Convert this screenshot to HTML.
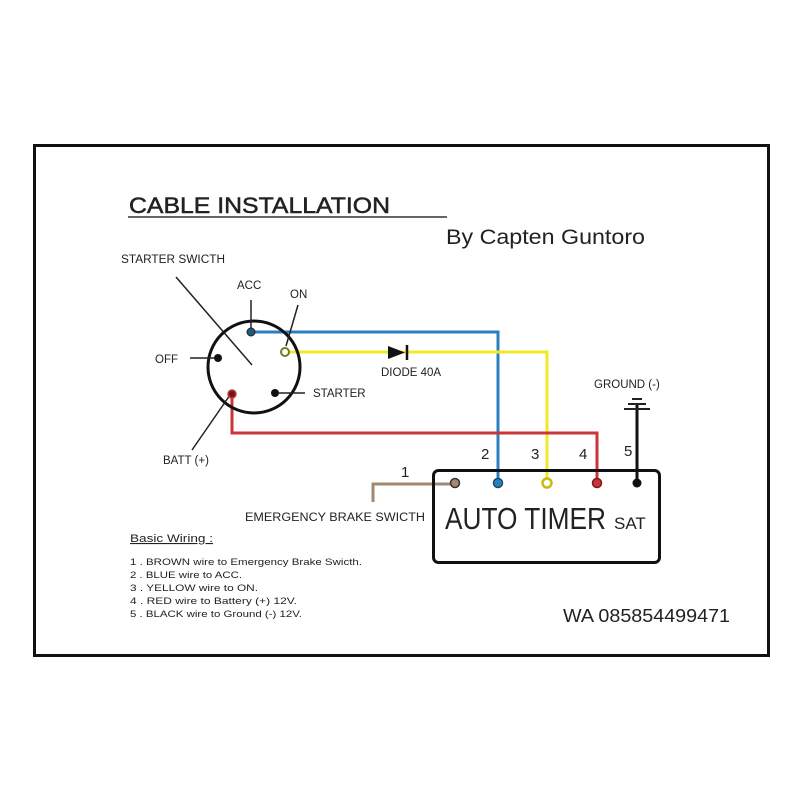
<!DOCTYPE html>
<html><head><style>
body{margin:0;background:#fff}
svg{display:block}
text{font-family:"Liberation Sans",sans-serif;fill:#222}
</style></head><body>
<svg width="800" height="800" viewBox="0 0 800 800" xmlns="http://www.w3.org/2000/svg">
<rect x="0" y="0" width="800" height="800" fill="#fff"/>
<rect x="34.5" y="145.5" width="734" height="510" fill="none" stroke="#111" stroke-width="3"/>
<text x="129" y="213" font-size="22" fill="#222" stroke="#222" stroke-width="0.5" textLength="261" lengthAdjust="spacingAndGlyphs">CABLE INSTALLATION</text>
<line x1="128" y1="217" x2="447" y2="217" stroke="#333" stroke-width="1.5"/>
<text x="446" y="244" font-size="21" textLength="199" lengthAdjust="spacingAndGlyphs">By Capten Guntoro</text>
<text x="121" y="263" font-size="11.5" textLength="104" lengthAdjust="spacingAndGlyphs">STARTER SWICTH</text>
<line x1="176" y1="277" x2="252" y2="365" stroke="#222" stroke-width="1.5"/>
<!-- wires -->
<polyline points="251,332 498,332 498,482" fill="none" stroke="#2a7fbf" stroke-width="3"/>
<polyline points="284,352 547,352 547,482" fill="none" stroke="#f2e82a" stroke-width="3"/>
<polyline points="232,394 232,433 597,433 597,482" fill="none" stroke="#c9363a" stroke-width="3"/>
<polyline points="373,502 373,484 455,484" fill="none" stroke="#a08a74" stroke-width="3"/>
<line x1="637" y1="405" x2="637" y2="484" stroke="#111" stroke-width="3"/>
<!-- ground symbol -->
<line x1="624" y1="409" x2="650" y2="409" stroke="#222" stroke-width="2"/>
<line x1="628" y1="404" x2="646" y2="404" stroke="#222" stroke-width="2"/>
<line x1="632" y1="399" x2="642" y2="399" stroke="#222" stroke-width="2"/>
<!-- diode -->
<polygon points="388,346 388,359 405,352.5" fill="#111"/>
<line x1="407" y1="345" x2="407" y2="360" stroke="#111" stroke-width="2.5"/>
<text x="381" y="376" font-size="11.5">DIODE 40A</text>
<!-- switch -->
<circle cx="254" cy="367" r="46" fill="none" stroke="#111" stroke-width="3"/>
<line x1="251" y1="300" x2="251" y2="330" stroke="#222" stroke-width="1.5"/>
<line x1="298" y1="305" x2="286" y2="346" stroke="#222" stroke-width="1.5"/>
<line x1="190" y1="358" x2="214" y2="358" stroke="#222" stroke-width="1.5"/>
<line x1="279" y1="393" x2="305" y2="393" stroke="#222" stroke-width="1.5"/>
<line x1="192" y1="450" x2="230" y2="395" stroke="#222" stroke-width="1.5"/>
<circle cx="251" cy="332" r="4" fill="#1f5a7a" stroke="#222" stroke-width="1"/>
<circle cx="285" cy="352" r="4" fill="#fff" stroke="#7a7a20" stroke-width="2"/>
<circle cx="218" cy="358" r="4" fill="#111"/>
<circle cx="232" cy="394" r="4" fill="#6a1a1a" stroke="#c9363a" stroke-width="1.5"/>
<circle cx="275" cy="393" r="4" fill="#111"/>
<text x="237" y="289" font-size="11.5">ACC</text>
<text x="290" y="298" font-size="11.5">ON</text>
<text x="155" y="363" font-size="11.5">OFF</text>
<text x="313" y="397" font-size="11.5">STARTER</text>
<text x="163" y="464" font-size="11.5">BATT (+)</text>
<text x="594" y="388" font-size="11.5">GROUND (-)</text>
<!-- timer -->
<rect x="433.5" y="470.5" width="226" height="92" rx="5" fill="none" stroke="#111" stroke-width="3"/>
<circle cx="455" cy="483" r="4.5" fill="#a08a74" stroke="#333" stroke-width="1.5"/>
<circle cx="498" cy="483" r="4.5" fill="#2a7fbf" stroke="#1a4a6a" stroke-width="1.5"/>
<circle cx="547" cy="483" r="4.5" fill="#fff" stroke="#c8bc10" stroke-width="2.5"/>
<circle cx="597" cy="483" r="4.5" fill="#c9363a" stroke="#7a1a1a" stroke-width="1.5"/>
<circle cx="637" cy="483" r="4.5" fill="#111"/>
<text x="401" y="477" font-size="15">1</text>
<text x="481" y="459" font-size="15">2</text>
<text x="531" y="459" font-size="15">3</text>
<text x="579" y="459" font-size="15">4</text>
<text x="624" y="456" font-size="15">5</text>
<text x="445" y="529" font-size="31" textLength="161" lengthAdjust="spacingAndGlyphs">AUTO TIMER</text>
<text x="614" y="529" font-size="17">SAT</text>
<text x="245" y="521" font-size="11.5" textLength="180" lengthAdjust="spacingAndGlyphs">EMERGENCY BRAKE SWICTH</text>
<!-- basic wiring -->
<text x="130" y="542" font-size="11" text-decoration="underline" textLength="83" lengthAdjust="spacingAndGlyphs">Basic Wiring :</text>
<text x="130" y="565" font-size="9.5" textLength="232" lengthAdjust="spacingAndGlyphs">1 . BROWN  wire to Emergency Brake Swicth.</text>
<text x="130" y="578" font-size="9.5" textLength="112" lengthAdjust="spacingAndGlyphs">2 . BLUE  wire to ACC.</text>
<text x="130" y="591" font-size="9.5" textLength="128" lengthAdjust="spacingAndGlyphs">3 . YELLOW  wire to  ON.</text>
<text x="130" y="604" font-size="9.5" textLength="167" lengthAdjust="spacingAndGlyphs">4 . RED  wire to  Battery (+) 12V.</text>
<text x="130" y="617" font-size="9.5" textLength="172" lengthAdjust="spacingAndGlyphs">5 . BLACK wire to Ground (-) 12V.</text>
<text x="563" y="622" font-size="18" textLength="167" lengthAdjust="spacingAndGlyphs">WA 085854499471</text>
</svg>
</body></html>
